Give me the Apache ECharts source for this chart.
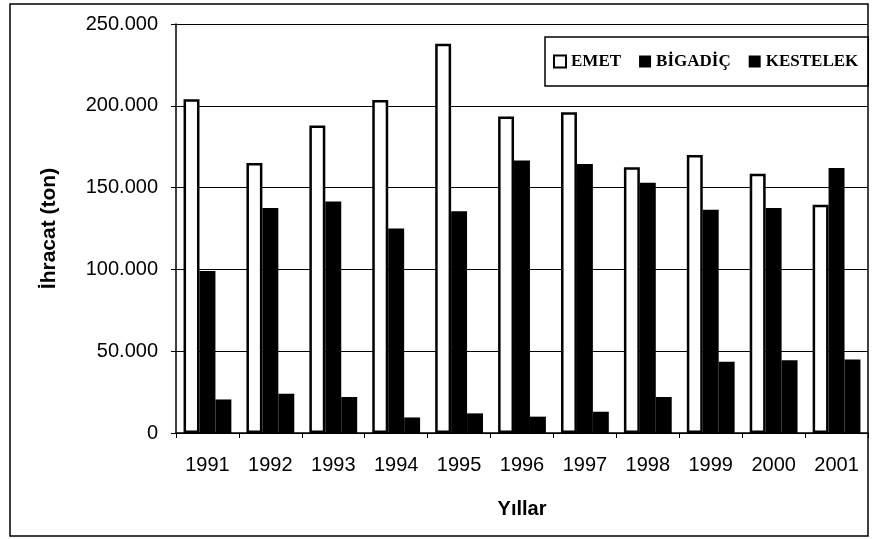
<!DOCTYPE html>
<html>
<head>
<meta charset="utf-8">
<script src="https://cdn.jsdelivr.net/npm/echarts@6/dist/echarts.min.js"></script>
<style>
  html, body { margin: 0; padding: 0; background: #fff; }
  #chart { width: 873px; height: 539px; }
</style>
</head>
<body>
<div id="chart"></div>
<script>
const years = ["1991", "1992", "1993", "1994", "1995", "1996", "1997", "1998", "1999", "2000", "2001"];
const emet = [204000, 165000, 188000, 203500, 238000, 193500, 196000, 162500, 170000, 158500, 139500];
const bigadic = [99000, 137500, 141500, 125000, 135500, 166500, 164500, 153000, 136500, 137500, 162000];
const kestelek = [20500, 24000, 22000, 9500, 12000, 10000, 13000, 22000, 43500, 44500, 45000];

var dom = document.getElementById("chart");
var myChart = echarts.init(dom, null, { renderer: "canvas", useDirtyRect: false });

// 50000 -> "50.000"
function fmt(v) {
  return String(v).replace(/\B(?=(\d{3})+(?!\d))/g, ".");
}

var option = {
  animation: false,
  backgroundColor: "#fff",
  graphic: [
    {
      type: "rect",
      shape: { x: 10, y: 4, width: 858, height: 532 },
      style: { fill: "none", stroke: "#000", lineWidth: 1.5 },
      z: -1,
    },
  ],
  grid: { left: 176, right: 5, top: 24, bottom: 106 },
  legend: {
    left: 545,
    top: 37,
    orient: "horizontal",
    borderColor: "#000",
    borderWidth: 1.5,
    padding: [16, 10, 16, 8],
    itemGap: 18,
    itemWidth: 12,
    itemHeight: 12,
    textStyle: { fontFamily: "Liberation Serif", fontSize: 17, fontWeight: "bold", color: "#000" },
    data: [
      { name: "EMET", icon: "rect", itemStyle: { color: "#fff", borderColor: "#000", borderWidth: 2 } },
      { name: "BİGADİÇ", icon: "rect" },
      { name: "KESTELEK", icon: "rect" },
    ],
  },
  xAxis: {
    type: "category",
    data: years,
    name: "Yıllar",
    nameLocation: "middle",
    nameGap: 66,
    nameTextStyle: { fontFamily: "Liberation Sans", fontSize: 20, fontWeight: "bold", color: "#000" },
    axisLine: { lineStyle: { color: "#000", width: 1.5 } },
    axisTick: { show: true, length: 5, lineStyle: { color: "#000" } },
    axisLabel: { fontFamily: "Liberation Sans", fontSize: 20, color: "#000", margin: 22 },
  },
  yAxis: {
    type: "value",
    min: 0,
    max: 250000,
    interval: 50000,
    name: "İhracat (ton)",
    nameLocation: "middle",
    nameGap: 116,
    nameTextStyle: { fontFamily: "Liberation Sans", fontSize: 21, fontWeight: "bold", color: "#000" },
    axisLine: { show: true, lineStyle: { color: "#000", width: 1.5 } },
    axisTick: { show: true, length: 5, lineStyle: { color: "#000" } },
    axisLabel: { fontFamily: "Liberation Sans", fontSize: 20, color: "#000", margin: 18, formatter: fmt },
    splitLine: { show: true, lineStyle: { color: "#000", width: 1.2 } },
  },
  series: [
    {
      name: "EMET",
      type: "bar",
      data: emet,
      barGap: "0%",
      barCategoryGap: "24%",
      itemStyle: { color: "#fff", borderColor: "#000", borderWidth: 2.5 },
    },
    {
      name: "BİGADİÇ",
      type: "bar",
      data: bigadic,
      itemStyle: { color: "#000" },
    },
    {
      name: "KESTELEK",
      type: "bar",
      data: kestelek,
      itemStyle: { color: "#000" },
    },
  ],
};

if (option && typeof option === "object") {
  myChart.setOption(option);
}

window.addEventListener("resize", myChart.resize);
</script>
</body>
</html>
